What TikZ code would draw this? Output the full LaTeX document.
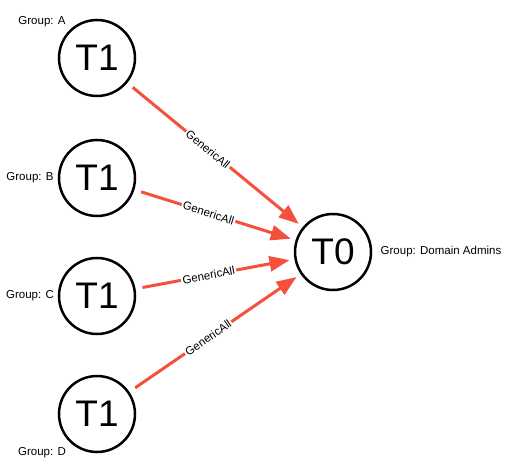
\documentclass[tikz,border=0pt]{standalone}
\usepackage{fontspec}
\setmainfont{Liberation Sans}
\usetikzlibrary{arrows.meta}
\definecolor{edgered}{RGB}{244,80,60}
\begin{document}
\begin{tikzpicture}[x=1pt,y=-1pt,
  tnode/.style={circle,draw=black,line width=2.5pt,minimum size=76pt,inner sep=0pt,font=\fontsize{37}{40}\selectfont},
  grp/.style={font=\fontsize{11.5}{13}\selectfont,inner sep=0pt},
  rel/.style={draw=edgered,line width=3pt,-{Triangle[length=20pt,width=15pt]},shorten >=5pt,shorten <=7pt},
  rellab/.style={sloped,pos=0.46,fill=white,inner sep=1.5pt,font=\fontsize{11.5}{13}\selectfont,text=black}]
\useasboundingbox (0,0) rectangle (508,470);
\node[tnode] (a) at (97,58) {T1};
\node[tnode] (b) at (97,178) {T1};
\node[tnode] (c) at (97,296) {T1};
\node[tnode] (d) at (97,414) {T1};
\node[tnode] (t0) at (333,252) {T0};
\node[grp] (ga) at (42,22) {Group: A};
\node[grp] (gb) at (30,178) {Group: B};
\node[grp] (gc) at (30,296) {Group: C};
\node[grp] (gd) at (42,453) {Group: D};
\node[grp] (gt) at (441,252) {Group: Domain Admins};
\draw[rel] (a) -- node[rellab] {GenericAll} (t0);
\draw[rel] (b) -- node[rellab] {GenericAll} (t0);
\draw[rel] (c) -- node[rellab] {GenericAll} (t0);
\draw[rel] (d) -- node[rellab] {GenericAll} (t0);
\end{tikzpicture}
\end{document}
